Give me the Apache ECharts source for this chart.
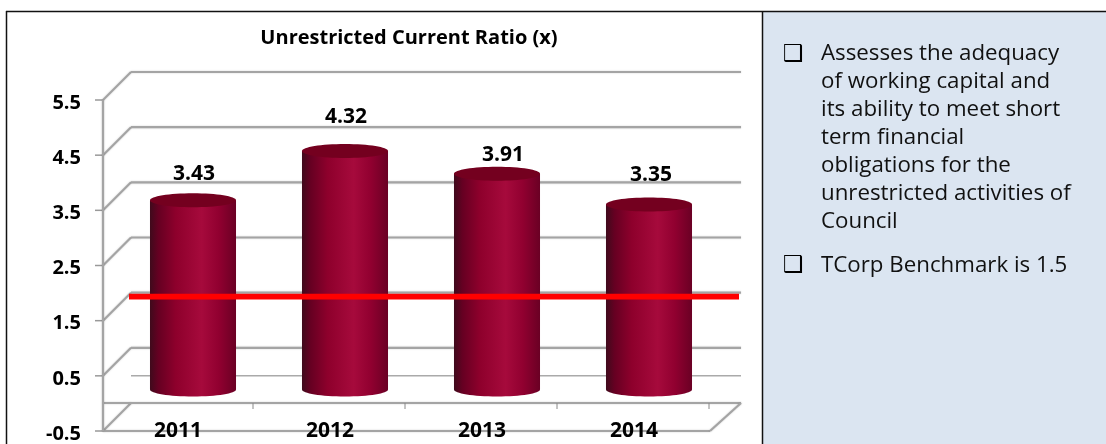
<!DOCTYPE html>
<html><head><meta charset="utf-8">
<script src="https://cdn.jsdelivr.net/npm/echarts@6/dist/echarts.min.js"></script>
<style>html,body{margin:0;padding:0;background:#fff}#c{width:1106px;height:444px}</style>
</head><body><div id="c"></div>
<script>
const chartTitle = 'Unrestricted Current Ratio (x)';
const categories = ['2011','2012','2013','2014'];
const ratios = [3.43,4.32,3.91,3.35];
const tickValues = [-0.5,0.5,1.5,2.5,3.5,4.5,5.5];
const benchmark = [1.5];
const bullet1 = ['Assesses the adequacy','of working capital and','its ability to meet short','term financial','obligations for the','unrestricted activities of','Council'];
const bullet2 = 'TCorp Benchmark is 1.5';

const labelNudge = [[2,-26],[2,-34],[7,-19],[3,-30]];
const FONT = '"Open Sans", "Noto Sans", sans-serif';
const DEPTH = 28, GRID = '#a4a4a4';
const gridStyle = {stroke:GRID, lineWidth:2.2, shadowBlur:2, shadowColor:'rgba(0,0,0,0.18)'};
const ln = (x1,y1,x2,y2,style) => ({type:'line',shape:{x1,y1,x2,y2},style:style||gridStyle});
const barGrad = {type:'linear',x:0,y:0,x2:1,y2:0,colorStops:[
  {offset:0,color:'#3f0a1c'},{offset:.1,color:'#660022'},{offset:.3,color:'#8e002c'},
  {offset:.6,color:'#a60a3c'},{offset:.8,color:'#910030'},{offset:1,color:'#6a0024'}]};

const chart = echarts.init(document.getElementById('c'),null,{renderer:'canvas'});
chart.setOption({
  animation:false,
  backgroundColor:'#fff',
  title:{text:chartTitle,left:404,top:23,textAlign:'center',
    textStyle:{fontFamily:FONT,fontWeight:'bold',fontSize:20,color:'#000'}},
  grid:{left:103,top:100,width:608,height:331,containLabel:false},
  xAxis:{type:'category',data:categories,z:6,
    axisLine:{show:false},axisTick:{show:false},
    axisLabel:{margin:-10,verticalAlign:'top',padding:[0,2,0,0],fontFamily:FONT,fontWeight:'bold',fontSize:21,color:'#000'}},
  yAxis:{type:'value',min:-0.5,max:5.5,interval:0.5,z:6,
    splitLine:{show:false},axisLine:{show:false},axisTick:{show:false},
    axisLabel:{margin:22,fontFamily:FONT,fontWeight:'bold',fontSize:20,color:'#000',
      verticalAlign:'top',lineHeight:20,padding:[-7,0,0,0],
      showMinLabel:true,showMaxLabel:true,
      formatter:v=>tickValues.some(t=>Math.abs(t-v)<1e-6)?v.toFixed(1):''}},
  graphic:[
    {type:'rect',z:-10,shape:{x:762,y:11,width:344,height:433},style:{fill:'#dbe5f1'}},
    {type:'line',z:-9,shape:{x1:6,y1:11.5,x2:1106,y2:11.5},style:{stroke:'#111',lineWidth:1.5}},
    {type:'line',z:-9,shape:{x1:6.5,y1:11,x2:6.5,y2:444},style:{stroke:'#111',lineWidth:1.5}},
    {type:'line',z:-9,shape:{x1:762.5,y1:11,x2:762.5,y2:444},style:{stroke:'#111',lineWidth:1.5}},
    {type:'text',x:821,y:39.5,style:{text:bullet1.join('\n'),font:'22.3px '+FONT,lineHeight:28,fill:'#111'}},
    {type:'text',x:821,y:252,style:{text:bullet2,font:'22.3px '+FONT,lineHeight:28,fill:'#111'}},
    {type:'text',x:783,y:41,style:{text:'\u2751',font:'bold 23px "DejaVu Sans"',lineHeight:28,fill:'#000'}},
    {type:'text',x:783,y:252,style:{text:'\u2751',font:'bold 23px "DejaVu Sans"',lineHeight:28,fill:'#000'}}
  ],
  series:[
    {type:'custom',z:1,silent:true,data:tickValues.map(v=>[0,v]),
     renderItem(params,api){
       const cs=params.coordSys, L=cs.x, R=cs.x+cs.width;
       const y=api.coord([0,api.value(1)])[1];
       const isMin=api.value(1)===tickValues[0];
       const kids=[
         ln(L-8,y,L,y,{stroke:'#999',lineWidth:1.5}),
         ln(L,y,L+DEPTH,y-DEPTH),
         ln(isMin?L:L+DEPTH,y-DEPTH,R+30,y-DEPTH)
       ];
       if(api.value(1)===tickValues[1]) kids.push(ln(L+DEPTH,y,R+30,y,{stroke:'#aaa',lineWidth:1.5}));
       if(isMin) kids.push(ln(L,y,R-1,y),ln(R-1,y,R+30,y-DEPTH));
       if(api.value(1)===tickValues[tickValues.length-1]) kids.push(ln(L,y,L,cs.y+cs.height));
       return {type:'group',children:kids};
     }},
    {type:'custom',z:1,silent:true,data:categories.map((c,i)=>[i]),
     renderItem(params,api){
       const cs=params.coordSys, band=api.size([1,0])[0];
       const x=api.coord([api.value(0),0])[0]+band/2-2;
       const y=cs.y+cs.height-DEPTH;
       return ln(x,y,x,y+6,{stroke:'#888',lineWidth:1});
     }},
    {type:'custom',z:2,silent:true,data:ratios.map((v,i)=>[i,v]),
     renderItem(params,api){
       const i=api.value(0), v=api.value(1);
       const top=api.coord([i,v]), base=api.coord([i,0]);
       const w=api.size([1,0])[0]*0.566, s=DEPTH/2, ry=7;
       const cx=top[0]+s, yt=top[1]-s, yb=base[1]-s, n=labelNudge[i];
       return {type:'group',children:[
         {type:'ellipse',shape:{cx,cy:yb,rx:w/2,ry},style:{fill:barGrad}},
         {type:'rect',shape:{x:cx-w/2,y:yt,width:w,height:yb-yt},style:{fill:barGrad}},
         {type:'ellipse',shape:{cx,cy:yt,rx:w/2,ry},style:{fill:'#74001f'}},
         {type:'text',x:cx+n[0]-1,y:yt+n[1],style:{text:v.toFixed(2),align:'center',verticalAlign:'middle',
           font:'bold 21px '+FONT,fill:'#000'}}
       ]};
     }},
    {type:'custom',z:3,silent:true,data:benchmark.map(v=>[0,v]),
     renderItem(params,api){
       const cs=params.coordSys;
       const y=api.coord([0,api.value(1)])[1]-24;
       return ln(cs.x+26,y,cs.x+cs.width+28,y,{stroke:'#ff0000',lineWidth:5.6});
     }}
  ]
});
</script></body></html>
